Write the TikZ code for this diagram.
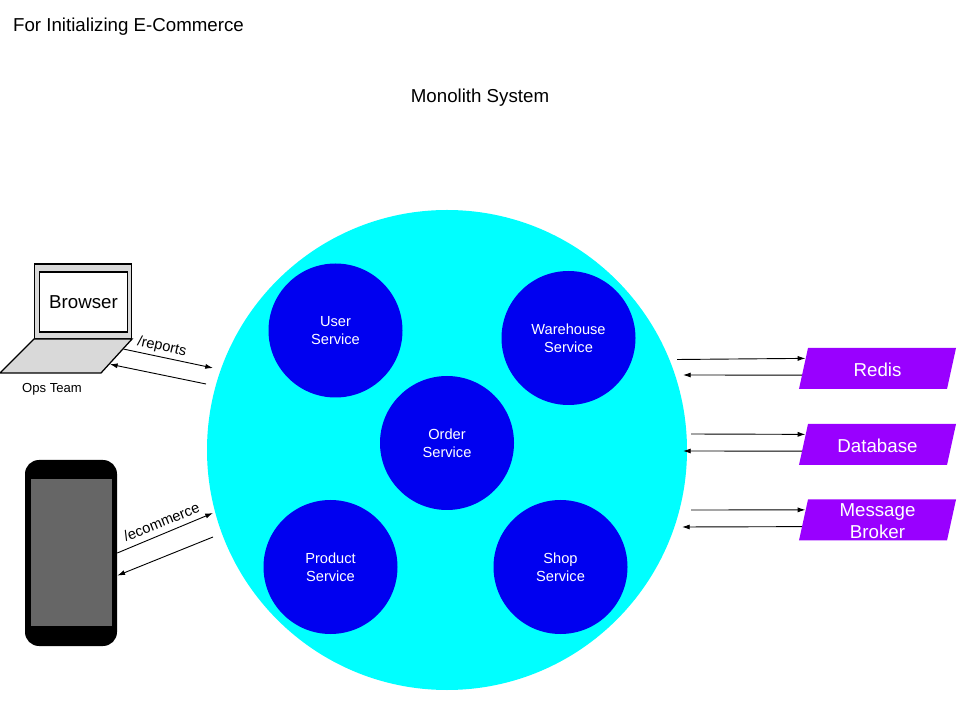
\documentclass[tikz,border=0pt]{standalone}
\usepackage{fontspec}
\setmainfont{Liberation Sans}
\usetikzlibrary{shapes.geometric,arrows.meta}
\definecolor{sysCyan}{HTML}{00FFFF}
\definecolor{svcBlue}{HTML}{0000F0}
\definecolor{infraPurple}{HTML}{9900FF}
\definecolor{padGray}{HTML}{D9D9D9}
\definecolor{screenGray}{HTML}{666666}
\tikzset{
  svc/.style={circle,fill=svcBlue,text=white,minimum size=134*0.025cm,inner sep=0pt,align=center,font=\fontsize{10.4}{12.8}\selectfont},
  infra/.style={trapezium,trapezium left angle=77.6,trapezium right angle=102.4,fill=infraPurple,inner sep=0pt,text width=139*0.025cm,text height=41*0.025cm,text depth=0pt},
  infratext/.style={text=white,align=center,font=\fontsize{13.3}{15.6}\selectfont},
  flow/.style={-{Latex[length=5.5pt,width=3.6pt]},line width=0.65pt},
  caption/.style={font=\fontsize{13.3}{15}\selectfont},
  small/.style={font=\fontsize{10.4}{12}\selectfont}
}
\begin{document}
\begin{tikzpicture}[x=0.025cm,y=-0.025cm]
    \useasboundingbox (0,0) rectangle (960,720);
    \node [caption] (title) at (128.5,26.5) {For Initializing E-Commerce};
    \node [caption] (mono) at (480,97.5) {Monolith System};
    % monolith
    \node [circle,fill=sysCyan,minimum size=480*0.025cm,inner sep=0pt] (sys) at (447,450) {};
    \node [svc] (user) at (335.5,330.5) {User\\Service};
    \node [svc] (warehouse) at (568.5,338) {Warehouse\\Service};
    \node [svc] (order) at (447,443) {Order\\Service};
    \node [svc] (product) at (330.5,567) {Product\\Service};
    \node [svc] (shop) at (560.5,567) {Shop\\Service};
    % laptop
    \node [draw,fill=padGray,line width=0.9pt,minimum width=97.5*0.025cm,minimum height=75*0.025cm] (lid) at (83,301.5) {};
    \node [draw,fill=white,line width=0.9pt,minimum width=88*0.025cm,minimum height=60*0.025cm,caption] (browser) at (83.5,302) {Browser};
    \node [trapezium,trapezium left angle=45,trapezium right angle=132.4,draw,fill=padGray,line width=0.9pt,inner sep=0pt,text width=67*0.025cm,text height=34*0.025cm,text depth=0pt] (pad) at (67.5,356) {};
    \node [font=\fontsize{9.3}{11}\selectfont] (ops) at (52,389.5) {Ops Team};
    % phone
    \node [rectangle,rounded corners=14*0.025cm,fill=black,minimum width=92*0.025cm,minimum height=186*0.025cm] (phone) at (71,553) {};
    \node [fill=screenGray,minimum width=81*0.025cm,minimum height=147*0.025cm] (display) at (71,552.5) {};
    % stores
    \node [infra] (redis) at (877.5,368.5) {};
    \node [infra] (db) at (877.5,444.5) {};
    \node [infra] (broker) at (877.5,520) {};
    \node [infratext] (redisText) at (877.5,370) {Redis};
    \node [infratext] (dbText) at (877.5,446) {Database};
    \node [infratext] (brokerText) at (877.5,521) {Message\\Broker};
    % free ends
    \coordinate (reportsIn) at (213,368);
    \coordinate (reportsOut) at (206,384);
    \coordinate (shopIn) at (213,513);
    \coordinate (shopOut) at (213,537);
    \coordinate (redisOut) at (677,359.5);
    \coordinate (redisIn) at (683,375);
    \coordinate (dbOut) at (691,434);
    \coordinate (dbIn) at (683,451);
    \coordinate (brokerOut) at (691,510);
    \coordinate (brokerIn) at (682,527);
    % arrows
    \draw [flow] (pad.7) -- (reportsIn);
    \draw [flow] (reportsOut) -- (pad.-11);
    \draw [flow] (phone.east) -- (shopIn);
    \draw [flow] (shopOut) -- (phone.-26);
    \draw [flow] (redisOut) -- (redis.172);
    \draw [flow] (redis.185) -- (redisIn);
    \draw [flow] (dbOut) -- (db.172);
    \draw [flow] (db.185) -- (dbIn);
    \draw [flow] (brokerOut) -- (broker.172);
    \draw [flow] (broker.185) -- (brokerIn);
    \node [small,rotate=-13] (reports) at (162,347) {/reports};
    \node [small,rotate=22] (ecommerce) at (161.5,522) {/ecommerce};
\end{tikzpicture}
\end{document}
